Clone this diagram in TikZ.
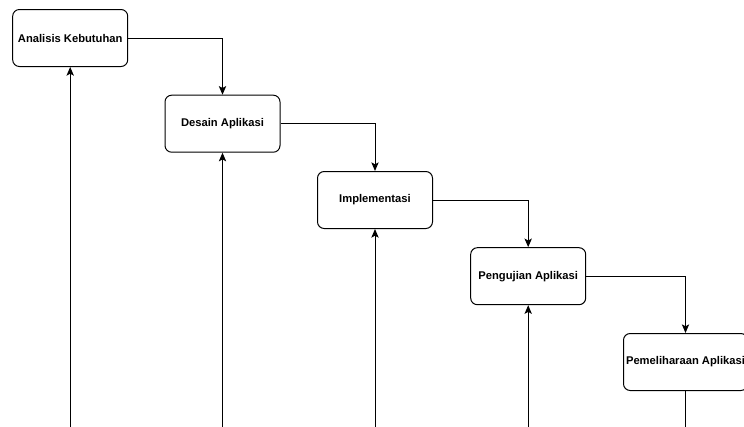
\documentclass[tikz,border=0pt]{standalone}
\usepackage{fontspec}
\setmainfont{Liberation Sans}
\usepackage{tikz}
\usetikzlibrary{arrows.meta, positioning}

\begin{document}
\begin{tikzpicture}[
    x=0.75pt, y=-0.75pt,
    block_phase/.style={
      rectangle,
      draw,
      line width=0.75pt,
      rounded corners=5pt,
      align=center,
      inner sep=0pt,
      font=\bfseries\fontsize{8.4}{10}\selectfont,
      minimum height=42.75pt,
      minimum width=86.25pt
    },
    line/.style={draw, line width=0.75pt, -{Stealth[length=6.5pt,width=5.5pt,inset=1.5pt]}},
    plain/.style={draw, line width=0.75pt}
  ]
  \clip (0,0) rectangle (744,426);

  % Nodes
  \node [block_phase] (analisis) at (70.2,38) {Analisis Kebutuhan};
  \node [block_phase] (desain) at (222.5,123.7) {Desain Aplikasi};
  \node [block_phase] (implementasi) at (375,200) {Implementasi};
  \node [block_phase] (pengujian) at (528.2,276.2) {Pengujian Aplikasi};
  \node [block_phase, minimum width=93pt] (pemeliharaan) at (685.5,362) {Pemeliharaan Aplikasi};

  \coordinate (bottom1) at (analisis |- 0,430);
  \coordinate (bottom2) at (desain |- 0,430);
  \coordinate (bottom3) at (implementasi |- 0,430);
  \coordinate (bottom4) at (pengujian |- 0,430);
  \coordinate (bottom5) at (pemeliharaan |- 0,430);

  % Arrows
  \draw[line] (analisis.east) -| (desain.north);
  \draw[line] (desain.east) -| (implementasi.north);
  \draw[line] (implementasi.east) -| (pengujian.north);
  \draw[line] (pengujian.east) -| (pemeliharaan.north);

  \draw[line] (bottom1) -- (analisis.south);
  \draw[line] (bottom2) -- (desain.south);
  \draw[line] (bottom3) -- (implementasi.south);
  \draw[line] (bottom4) -- (pengujian.south);
  \draw[plain] (pemeliharaan.south) -- (bottom5);

\end{tikzpicture}
\end{document}
